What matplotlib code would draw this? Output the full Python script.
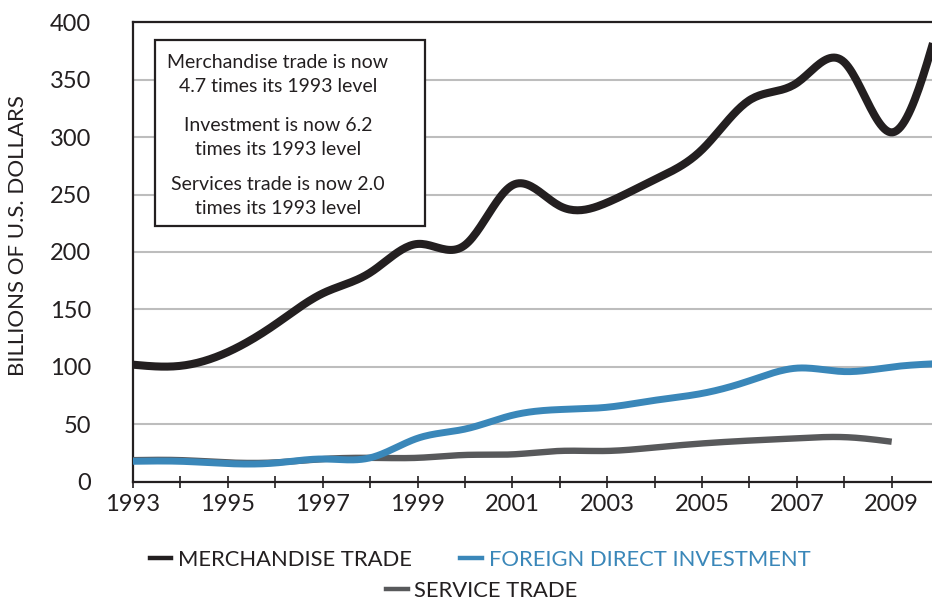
import numpy as np
import matplotlib
matplotlib.use("Agg")
import matplotlib.pyplot as plt
from matplotlib.patches import Rectangle

plt.rcParams['font.family'] = ['Lato', 'DejaVu Sans']

# annual values, billions of U.S. dollars
years = [1993, 1994, 1995, 1996, 1997, 1998, 1999, 2000, 2001,
         2002, 2003, 2004, 2005, 2006, 2007, 2008, 2009, 2010]
merchandise = [102, 101, 113, 137, 164, 182, 207, 206, 258,
               240, 243, 263, 289, 332, 347, 365, 304, 400]
fdi = [18, 18, 16, 16.5, 20, 21, 38, 46, 58,
       63, 65, 71, 77, 88, 99, 96, 100, 103]
service_years = years[:-1]
service = [19, 19, 17, 17, 20, 21, 21, 23.5, 24,
           27, 27, 30, 33.5, 36, 38, 39, 35]

box_lines = ["Merchandise trade is now\n4.7 times its 1993 level",
             "Investment is now 6.2\ntimes its 1993 level",
             "Services trade is now 2.0\ntimes its 1993 level"]

BLACK = '#231f20'
BLUE = '#3a87b9'
GREY = '#58595b'


def smooth(x, y, n=400):
    # natural cubic spline through the yearly points
    x = np.asarray(x, float)
    y = np.asarray(y, float)
    k = len(x)
    h = np.diff(x)
    A = np.zeros((k, k))
    b = np.zeros(k)
    A[0, 0] = A[-1, -1] = 1
    for i in range(1, k - 1):
        A[i, i - 1] = h[i - 1]
        A[i, i] = 2 * (h[i - 1] + h[i])
        A[i, i + 1] = h[i]
        b[i] = 6 * ((y[i + 1] - y[i]) / h[i] - (y[i] - y[i - 1]) / h[i - 1])
    m = np.linalg.solve(A, b)
    xs = np.linspace(x[0], x[-1], n)
    j = np.clip(np.searchsorted(x, xs) - 1, 0, k - 2)
    t = xs - x[j]
    hj = h[j]
    ys = (m[j] * (x[j + 1] - xs) ** 3 / (6 * hj) + m[j + 1] * t ** 3 / (6 * hj)
          + (y[j] / hj - m[j] * hj / 6) * (x[j + 1] - xs)
          + (y[j + 1] / hj - m[j + 1] * hj / 6) * t)
    return xs, ys


fig = plt.figure(figsize=(9.32, 6.0), dpi=100)
ax = fig.add_axes([0.1427, 0.1967, 0.8573, 0.7666])

ax.plot(*smooth(service_years, service), color=GREY, lw=4.6,
        solid_capstyle='butt', zorder=3)
ax.plot(*smooth(years, fdi), color=BLUE, lw=5.0, solid_capstyle='butt', zorder=4)
ax.plot(*smooth(years, merchandise), color=BLACK, lw=5.8,
        solid_capstyle='butt', zorder=5)

ax.set_xlim(1993, 2009.85)
ax.set_ylim(0, 400)
ax.set_yticks(range(0, 401, 50))
ax.yaxis.grid(True, color='#bdbdbd', lw=1.5)
ax.set_axisbelow(True)
ax.tick_params(axis='y', length=0, pad=30, labelsize=17, labelcolor=BLACK)
ax.set_xticks(range(1993, 2010))
ax.set_xticklabels([str(y) if (y - 1993) % 2 == 0 else '' for y in range(1993, 2010)])
ax.tick_params(axis='x', direction='inout', length=9, width=1.2, pad=4,
               labelsize=17, labelcolor=BLACK, color=BLACK)
for side in ['left', 'bottom', 'top']:
    ax.spines[side].set_color(BLACK)
    ax.spines[side].set_linewidth(1.6)
ax.spines['right'].set_visible(False)
fig.text(0.0193, 0.607, 'BILLIONS OF U.S. DOLLARS', rotation=90,
         ha='center', va='center', fontsize=16, color=BLACK)

# note box
ax.add_patch(Rectangle((0.0275, 0.5565), 0.338, 0.4045, transform=ax.transAxes,
                       facecolor='white', edgecolor=BLACK, lw=1.6, zorder=6))
for txt, yc in zip(box_lines, [0.885, 0.75, 0.62]):
    ax.text(0.1815, yc, txt, transform=ax.transAxes, ha='center', va='center',
            fontsize=14, color=BLACK, linespacing=1.5, zorder=7)

# legend
h1, = ax.plot([], [], color=BLACK, lw=3.2)
h2, = ax.plot([], [], color=BLUE, lw=3.2)
h3, = ax.plot([], [], color=GREY, lw=3.2)
leg1 = fig.legend([h1, h2], ['MERCHANDISE TRADE', 'FOREIGN DIRECT INVESTMENT'],
                  loc='center', bbox_to_anchor=(0.515, 0.0667), ncol=2,
                  frameon=False, fontsize=15.8, handlelength=1.0,
                  handletextpad=0.3, columnspacing=2.2)
leg1.get_texts()[0].set_color(BLACK)
leg1.get_texts()[1].set_color(BLUE)
leg2 = fig.legend([h3], ['SERVICE TRADE'], loc='center',
                  bbox_to_anchor=(0.5166, 0.015), frameon=False, fontsize=15.8,
                  handlelength=1.0, handletextpad=0.3)
leg2.get_texts()[0].set_color(BLACK)

fig.savefig('out.png', dpi=100)
